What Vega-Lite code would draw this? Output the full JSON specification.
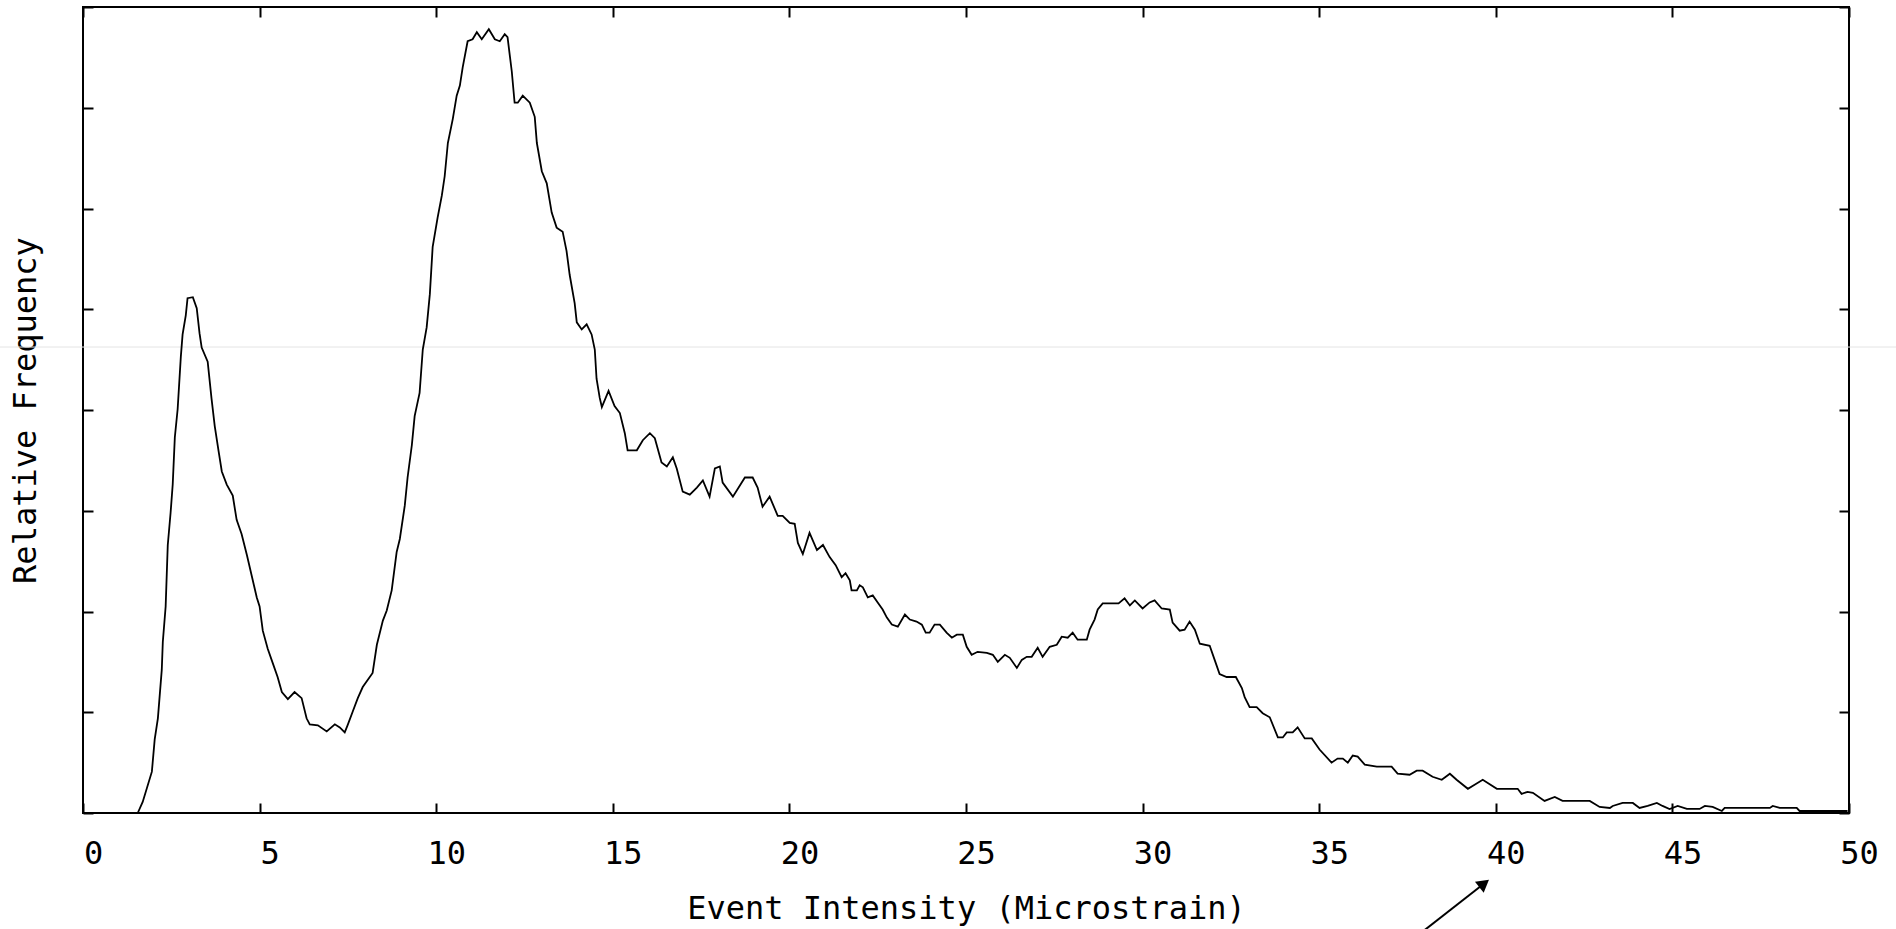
{
  "$schema": "https://vega.github.io/schema/vega-lite/v6.json",
  "width": 1766,
  "height": 806,
  "autosize": {"type": "none"},
  "padding": {"left": 83, "top": 7, "right": 47, "bottom": 116},
  "background": "white",
  "config": {
    "view": {"stroke": "#000", "strokeWidth": 2},
    "font": "DejaVu Sans Mono",
    "axis": {"grid": false, "domain": false, "tickColor": "#000", "tickWidth": 2, "tickSize": -10, "labelColor": "#000", "titleColor": "#000", "labelFont": "DejaVu Sans Mono", "titleFont": "DejaVu Sans Mono", "labelFontSize": 32, "titleFontSize": 32, "titleFontWeight": "normal"}
  },
  "resolve": {"axis": {"x": "independent", "y": "independent"}},
  "layer": [
    {
      "data": {"values": [{"x": -2.4, "x2": 51.4, "y": 4.625}]},
      "mark": {"type": "rule", "color": "#e4e4e4", "strokeWidth": 1, "clip": false},
      "encoding": {
        "x": {"field": "x", "type": "quantitative", "scale": {"domain": [0, 50], "nice": false, "zero": false}, "axis": {"orient": "top", "values": [0, 5, 10, 15, 20, 25, 30, 35, 40, 45, 50], "labels": false, "title": null}},
        "x2": {"field": "x2"},
        "y": {"field": "y", "type": "quantitative", "scale": {"domain": [0, 8], "nice": false}, "axis": {"orient": "right", "values": [0, 1, 2, 3, 4, 5, 6, 7, 8], "labels": false, "title": null}}
      }
    },
    {
      "data": {"values": [
        {"intensity": 1.55, "freq": 0}, {"intensity": 1.69, "freq": 0.11}, {"intensity": 1.95, "freq": 0.41}, {"intensity": 2.03, "freq": 0.73}, {"intensity": 2.12, "freq": 0.94}, {"intensity": 2.23, "freq": 1.42}, {"intensity": 2.26, "freq": 1.70}, {"intensity": 2.34, "freq": 2.05}, {"intensity": 2.40, "freq": 2.66}, {"intensity": 2.48, "freq": 2.98}, {"intensity": 2.54, "freq": 3.26}, {"intensity": 2.60, "freq": 3.73}, {"intensity": 2.68, "freq": 4.01}, {"intensity": 2.77, "freq": 4.53}, {"intensity": 2.82, "freq": 4.75}, {"intensity": 2.91, "freq": 4.94}, {"intensity": 2.96, "freq": 5.11}, {"intensity": 3.11, "freq": 5.12}, {"intensity": 3.22, "freq": 5.01}, {"intensity": 3.30, "freq": 4.76}, {"intensity": 3.36, "freq": 4.62}, {"intensity": 3.53, "freq": 4.48}, {"intensity": 3.64, "freq": 4.11}, {"intensity": 3.73, "freq": 3.84}, {"intensity": 3.84, "freq": 3.59}, {"intensity": 3.93, "freq": 3.39}, {"intensity": 4.07, "freq": 3.26}, {"intensity": 4.24, "freq": 3.15}, {"intensity": 4.35, "freq": 2.91}, {"intensity": 4.49, "freq": 2.77}, {"intensity": 4.64, "freq": 2.56}, {"intensity": 4.78, "freq": 2.35}, {"intensity": 4.92, "freq": 2.14}, {"intensity": 5.00, "freq": 2.05}, {"intensity": 5.09, "freq": 1.81}, {"intensity": 5.23, "freq": 1.63}, {"intensity": 5.37, "freq": 1.49}, {"intensity": 5.51, "freq": 1.35}, {"intensity": 5.63, "freq": 1.20}, {"intensity": 5.80, "freq": 1.13}, {"intensity": 5.99, "freq": 1.20}, {"intensity": 6.19, "freq": 1.14}, {"intensity": 6.33, "freq": 0.94}, {"intensity": 6.42, "freq": 0.88}, {"intensity": 6.65, "freq": 0.87}, {"intensity": 6.90, "freq": 0.81}, {"intensity": 7.13, "freq": 0.88}, {"intensity": 7.27, "freq": 0.85}, {"intensity": 7.41, "freq": 0.80}, {"intensity": 7.49, "freq": 0.87}, {"intensity": 7.64, "freq": 1.01}, {"intensity": 7.78, "freq": 1.14}, {"intensity": 7.92, "freq": 1.25}, {"intensity": 8.20, "freq": 1.39}, {"intensity": 8.32, "freq": 1.67}, {"intensity": 8.49, "freq": 1.91}, {"intensity": 8.60, "freq": 2.01}, {"intensity": 8.74, "freq": 2.21}, {"intensity": 8.88, "freq": 2.59}, {"intensity": 8.97, "freq": 2.72}, {"intensity": 9.11, "freq": 3.05}, {"intensity": 9.19, "freq": 3.33}, {"intensity": 9.31, "freq": 3.65}, {"intensity": 9.39, "freq": 3.94}, {"intensity": 9.53, "freq": 4.17}, {"intensity": 9.62, "freq": 4.60}, {"intensity": 9.73, "freq": 4.82}, {"intensity": 9.82, "freq": 5.15}, {"intensity": 9.90, "freq": 5.62}, {"intensity": 10.04, "freq": 5.91}, {"intensity": 10.16, "freq": 6.13}, {"intensity": 10.24, "freq": 6.32}, {"intensity": 10.33, "freq": 6.65}, {"intensity": 10.47, "freq": 6.89}, {"intensity": 10.58, "freq": 7.12}, {"intensity": 10.67, "freq": 7.22}, {"intensity": 10.75, "freq": 7.40}, {"intensity": 10.89, "freq": 7.66}, {"intensity": 11.03, "freq": 7.68}, {"intensity": 11.15, "freq": 7.75}, {"intensity": 11.29, "freq": 7.68}, {"intensity": 11.49, "freq": 7.78}, {"intensity": 11.66, "freq": 7.68}, {"intensity": 11.80, "freq": 7.66}, {"intensity": 11.94, "freq": 7.73}, {"intensity": 12.02, "freq": 7.70}, {"intensity": 12.14, "freq": 7.36}, {"intensity": 12.22, "freq": 7.05}, {"intensity": 12.31, "freq": 7.05}, {"intensity": 12.45, "freq": 7.12}, {"intensity": 12.65, "freq": 7.05}, {"intensity": 12.79, "freq": 6.91}, {"intensity": 12.85, "freq": 6.65}, {"intensity": 12.99, "freq": 6.37}, {"intensity": 13.13, "freq": 6.25}, {"intensity": 13.27, "freq": 5.96}, {"intensity": 13.41, "freq": 5.81}, {"intensity": 13.58, "freq": 5.77}, {"intensity": 13.69, "freq": 5.58}, {"intensity": 13.78, "freq": 5.34}, {"intensity": 13.92, "freq": 5.06}, {"intensity": 13.98, "freq": 4.87}, {"intensity": 14.12, "freq": 4.80}, {"intensity": 14.26, "freq": 4.85}, {"intensity": 14.40, "freq": 4.75}, {"intensity": 14.49, "freq": 4.60}, {"intensity": 14.54, "freq": 4.31}, {"intensity": 14.63, "freq": 4.12}, {"intensity": 14.69, "freq": 4.03}, {"intensity": 14.88, "freq": 4.19}, {"intensity": 15.05, "freq": 4.04}, {"intensity": 15.20, "freq": 3.97}, {"intensity": 15.34, "freq": 3.77}, {"intensity": 15.42, "freq": 3.60}, {"intensity": 15.68, "freq": 3.60}, {"intensity": 15.85, "freq": 3.70}, {"intensity": 16.05, "freq": 3.77}, {"intensity": 16.19, "freq": 3.72}, {"intensity": 16.38, "freq": 3.48}, {"intensity": 16.53, "freq": 3.44}, {"intensity": 16.70, "freq": 3.53}, {"intensity": 16.81, "freq": 3.42}, {"intensity": 16.98, "freq": 3.19}, {"intensity": 17.18, "freq": 3.16}, {"intensity": 17.38, "freq": 3.23}, {"intensity": 17.55, "freq": 3.30}, {"intensity": 17.74, "freq": 3.14}, {"intensity": 17.89, "freq": 3.42}, {"intensity": 18.03, "freq": 3.44}, {"intensity": 18.11, "freq": 3.28}, {"intensity": 18.40, "freq": 3.14}, {"intensity": 18.74, "freq": 3.33}, {"intensity": 18.96, "freq": 3.33}, {"intensity": 19.10, "freq": 3.23}, {"intensity": 19.24, "freq": 3.04}, {"intensity": 19.44, "freq": 3.14}, {"intensity": 19.67, "freq": 2.95}, {"intensity": 19.81, "freq": 2.95}, {"intensity": 20.01, "freq": 2.88}, {"intensity": 20.15, "freq": 2.87}, {"intensity": 20.24, "freq": 2.68}, {"intensity": 20.38, "freq": 2.57}, {"intensity": 20.57, "freq": 2.78}, {"intensity": 20.78, "freq": 2.61}, {"intensity": 20.95, "freq": 2.66}, {"intensity": 21.14, "freq": 2.54}, {"intensity": 21.31, "freq": 2.46}, {"intensity": 21.48, "freq": 2.34}, {"intensity": 21.59, "freq": 2.38}, {"intensity": 21.71, "freq": 2.31}, {"intensity": 21.76, "freq": 2.21}, {"intensity": 21.91, "freq": 2.21}, {"intensity": 21.99, "freq": 2.26}, {"intensity": 22.08, "freq": 2.24}, {"intensity": 22.22, "freq": 2.14}, {"intensity": 22.36, "freq": 2.16}, {"intensity": 22.50, "freq": 2.09}, {"intensity": 22.64, "freq": 2.02}, {"intensity": 22.76, "freq": 1.94}, {"intensity": 22.90, "freq": 1.87}, {"intensity": 23.07, "freq": 1.85}, {"intensity": 23.27, "freq": 1.97}, {"intensity": 23.41, "freq": 1.92}, {"intensity": 23.60, "freq": 1.90}, {"intensity": 23.75, "freq": 1.87}, {"intensity": 23.86, "freq": 1.79}, {"intensity": 23.97, "freq": 1.79}, {"intensity": 24.11, "freq": 1.87}, {"intensity": 24.26, "freq": 1.87}, {"intensity": 24.45, "freq": 1.79}, {"intensity": 24.60, "freq": 1.74}, {"intensity": 24.74, "freq": 1.77}, {"intensity": 24.91, "freq": 1.77}, {"intensity": 25.02, "freq": 1.65}, {"intensity": 25.16, "freq": 1.57}, {"intensity": 25.33, "freq": 1.60}, {"intensity": 25.59, "freq": 1.59}, {"intensity": 25.76, "freq": 1.57}, {"intensity": 25.90, "freq": 1.50}, {"intensity": 26.10, "freq": 1.57}, {"intensity": 26.24, "freq": 1.54}, {"intensity": 26.44, "freq": 1.44}, {"intensity": 26.58, "freq": 1.52}, {"intensity": 26.72, "freq": 1.55}, {"intensity": 26.86, "freq": 1.55}, {"intensity": 27.03, "freq": 1.64}, {"intensity": 27.17, "freq": 1.55}, {"intensity": 27.37, "freq": 1.65}, {"intensity": 27.57, "freq": 1.67}, {"intensity": 27.71, "freq": 1.75}, {"intensity": 27.88, "freq": 1.74}, {"intensity": 28.02, "freq": 1.79}, {"intensity": 28.16, "freq": 1.72}, {"intensity": 28.42, "freq": 1.72}, {"intensity": 28.50, "freq": 1.82}, {"intensity": 28.64, "freq": 1.92}, {"intensity": 28.73, "freq": 2.02}, {"intensity": 28.87, "freq": 2.08}, {"intensity": 29.32, "freq": 2.08}, {"intensity": 29.49, "freq": 2.13}, {"intensity": 29.64, "freq": 2.06}, {"intensity": 29.78, "freq": 2.11}, {"intensity": 30.00, "freq": 2.03}, {"intensity": 30.20, "freq": 2.09}, {"intensity": 30.34, "freq": 2.11}, {"intensity": 30.54, "freq": 2.03}, {"intensity": 30.77, "freq": 2.02}, {"intensity": 30.85, "freq": 1.89}, {"intensity": 31.05, "freq": 1.81}, {"intensity": 31.19, "freq": 1.82}, {"intensity": 31.33, "freq": 1.90}, {"intensity": 31.48, "freq": 1.82}, {"intensity": 31.62, "freq": 1.68}, {"intensity": 31.90, "freq": 1.66}, {"intensity": 32.04, "freq": 1.52}, {"intensity": 32.18, "freq": 1.38}, {"intensity": 32.38, "freq": 1.35}, {"intensity": 32.64, "freq": 1.35}, {"intensity": 32.81, "freq": 1.24}, {"intensity": 32.89, "freq": 1.15}, {"intensity": 33.03, "freq": 1.05}, {"intensity": 33.23, "freq": 1.05}, {"intensity": 33.40, "freq": 0.99}, {"intensity": 33.60, "freq": 0.95}, {"intensity": 33.83, "freq": 0.75}, {"intensity": 33.97, "freq": 0.75}, {"intensity": 34.08, "freq": 0.80}, {"intensity": 34.25, "freq": 0.80}, {"intensity": 34.39, "freq": 0.85}, {"intensity": 34.59, "freq": 0.74}, {"intensity": 34.79, "freq": 0.74}, {"intensity": 35.01, "freq": 0.63}, {"intensity": 35.35, "freq": 0.50}, {"intensity": 35.52, "freq": 0.54}, {"intensity": 35.67, "freq": 0.54}, {"intensity": 35.81, "freq": 0.50}, {"intensity": 35.95, "freq": 0.57}, {"intensity": 36.09, "freq": 0.56}, {"intensity": 36.29, "freq": 0.48}, {"intensity": 36.63, "freq": 0.46}, {"intensity": 37.05, "freq": 0.46}, {"intensity": 37.22, "freq": 0.39}, {"intensity": 37.56, "freq": 0.38}, {"intensity": 37.76, "freq": 0.42}, {"intensity": 37.93, "freq": 0.42}, {"intensity": 38.21, "freq": 0.36}, {"intensity": 38.47, "freq": 0.33}, {"intensity": 38.70, "freq": 0.39}, {"intensity": 38.89, "freq": 0.33}, {"intensity": 39.21, "freq": 0.24}, {"intensity": 39.40, "freq": 0.28}, {"intensity": 39.63, "freq": 0.33}, {"intensity": 40.03, "freq": 0.24}, {"intensity": 40.62, "freq": 0.24}, {"intensity": 40.73, "freq": 0.19}, {"intensity": 40.90, "freq": 0.21}, {"intensity": 41.05, "freq": 0.20}, {"intensity": 41.38, "freq": 0.12}, {"intensity": 41.67, "freq": 0.16}, {"intensity": 41.89, "freq": 0.12}, {"intensity": 42.66, "freq": 0.12}, {"intensity": 42.94, "freq": 0.06}, {"intensity": 43.23, "freq": 0.05}, {"intensity": 43.31, "freq": 0.07}, {"intensity": 43.59, "freq": 0.10}, {"intensity": 43.88, "freq": 0.10}, {"intensity": 44.07, "freq": 0.05}, {"intensity": 44.30, "freq": 0.07}, {"intensity": 44.56, "freq": 0.10}, {"intensity": 44.72, "freq": 0.07}, {"intensity": 44.92, "freq": 0.04}, {"intensity": 45.15, "freq": 0.07}, {"intensity": 45.41, "freq": 0.04}, {"intensity": 45.77, "freq": 0.04}, {"intensity": 45.92, "freq": 0.07}, {"intensity": 46.14, "freq": 0.06}, {"intensity": 46.40, "freq": 0.02}, {"intensity": 46.48, "freq": 0.05}, {"intensity": 47.76, "freq": 0.05}, {"intensity": 47.84, "freq": 0.07}, {"intensity": 48.04, "freq": 0.05}, {"intensity": 48.52, "freq": 0.05}, {"intensity": 48.60, "freq": 0.02}, {"intensity": 49.96, "freq": 0.02}
      ]},
      "mark": {"type": "line", "color": "#000", "strokeWidth": 1.8},
      "encoding": {
        "x": {"field": "intensity", "type": "quantitative", "scale": {"domain": [0, 50], "nice": false, "zero": false},
          "axis": {"orient": "bottom", "values": [0, 5, 10, 15, 20, 25, 30, 35, 40, 45, 50], "labelPadding": 35, "labelOffset": 10, "labelFlush": false, "labelAngle": 0, "title": "Event Intensity (Microstrain)", "titlePadding": 24}},
        "y": {"field": "freq", "type": "quantitative", "scale": {"domain": [0, 8], "nice": false},
          "axis": {"orient": "left", "values": [0, 1, 2, 3, 4, 5, 6, 7, 8], "labels": false, "title": "Relative Frequency", "titlePadding": 40}}
      }
    },
    {
      "data": {"values": [{"x": 37.59, "y": -1.27, "x2": 39.67, "y2": -0.70}]},
      "mark": {"type": "rule", "color": "#000", "strokeWidth": 2, "clip": false},
      "encoding": {
        "x": {"field": "x", "type": "quantitative", "scale": {"domain": [0, 50], "nice": false, "zero": false}, "axis": null},
        "x2": {"field": "x2"},
        "y": {"field": "y", "type": "quantitative", "scale": {"domain": [0, 8], "nice": false}, "axis": null},
        "y2": {"field": "y2"}
      }
    },
    {
      "data": {"values": [{"x": 39.67, "y": -0.70}]},
      "mark": {"type": "point", "shape": "triangle-up", "filled": true, "color": "#000", "opacity": 1, "size": 200, "angle": 52, "clip": false},
      "encoding": {
        "x": {"field": "x", "type": "quantitative", "scale": {"domain": [0, 50], "nice": false, "zero": false}, "axis": null},
        "y": {"field": "y", "type": "quantitative", "scale": {"domain": [0, 8], "nice": false}, "axis": null}
      }
    }
  ]
}
